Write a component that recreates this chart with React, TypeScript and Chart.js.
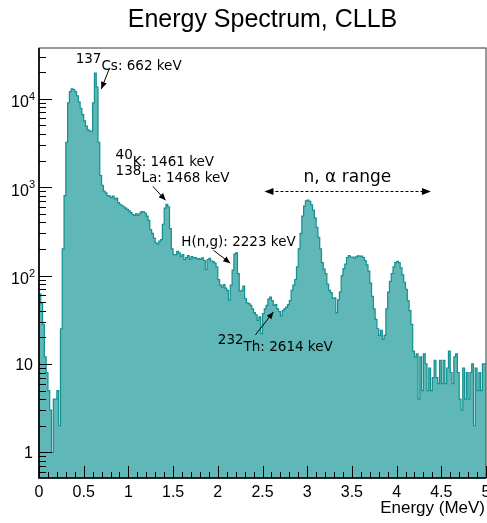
import { useEffect, useRef } from 'react';
import {
  Chart,
  LineController,
  LineElement,
  PointElement,
  LinearScale,
  LogarithmicScale,
  Filler,
} from 'chart.js';

Chart.register(LineController, LineElement, PointElement, LinearScale, LogarithmicScale, Filler);

const WIDTH = 487;
const HEIGHT = 523;

// Energy spectrum: 250 bins of 20 keV from 0 to 5 MeV (counts per bin)
const binWidthMeV = 0.02;
const counts = [
  33, 62, 48, 28, 12, 8, 5, 3, 1, 4,
  4, 5, 2, 25, 200, 800, 3200, 9000, 12000, 12900,
  12700, 12000, 10800, 9200, 7800, 6600, 5600, 4900, 4450, 4300,
  4300, 9000, 19500, 13500, 3200, 1350, 1050, 900, 860, 800,
  790, 760, 790, 730, 750, 670, 640, 620, 600, 580,
  560, 540, 515, 490, 480, 500, 480, 505, 530, 525,
  510, 470, 420, 330, 300, 265, 235, 228, 245, 255,
  380, 580, 640, 600, 340, 200, 172, 172, 188, 180,
  165, 172, 151, 160, 168, 152, 164, 158, 160, 154,
  155, 152, 158, 148, 117, 151, 156, 146, 144, 138,
  125, 90, 78, 74, 79, 72, 68, 53, 78, 115,
  175, 180, 105, 66, 68, 76, 55, 49, 48, 46,
  42, 38, 36, 31, 34, 22, 37, 42, 46, 54,
  57, 52, 46, 47, 42, 39, 35, 40, 42, 44,
  47, 52, 68, 78, 90, 125, 200, 300, 470, 610,
  700, 715, 690, 630, 550, 450, 350, 270, 200, 140,
  118, 105, 80, 68, 64, 55, 56, 38, 53, 65,
  100, 120, 135, 160, 168, 162, 162, 158, 163, 167,
  166, 166, 160, 148, 132, 112, 82, 58, 42, 32,
  25, 21, 24, 19, 21, 42, 65, 86, 105, 125,
  140, 145, 140, 122, 102, 84, 70, 52, 40, 28,
  14, 12, 13, 4, 12, 5, 13, 10, 5, 9,
  5, 7, 11, 7, 6, 11, 6, 11, 6, 9,
  14, 8, 6, 12, 13, 8, 4, 3, 9, 4,
  8, 4, 8, 10, 2, 9, 5, 8, 5, 10,
];

const energyRange = [0, 5];
const countRange = [0.513, 37450];

const xTickValues = [0, 0.5, 1, 1.5, 2, 2.5, 3, 3.5, 4, 4.5, 5];
const xTickLabels = ['0', '0.5', '1', '1.5', '2', '2.5', '3', '3.5', '4', '4.5', '5'];
const xMinorStep = 0.1;

const yTickValues = [1, 10, 100, 1000, 10000];
const yTickBases = ['1', '10', '10', '10', '10'];
const yTickExponents = ['', '', '2', '3', '4'];

const titleText = 'Energy Spectrum, CLLB';
const xAxisTitle = 'Energy (MeV)';

// Peak labels, anchored in data coordinates (MeV, counts)
const peakLabels = [
  { sup: '137', text: 'Cs: 662 keV', at: [0.41, 20960], from: [0.79, 22300], to: [0.697, 12900] },
  { sup: '40', text: 'K: 1461 keV', at: [0.857, 1751], from: null, to: null },
  { sup: '138', text: 'La: 1468 keV', at: [0.857, 1133], from: [1.274, 1021], to: [1.416, 709] },
  { sup: '', text: 'H(n,g): 2223 keV', at: [1.591, 214], from: [1.952, 193], to: [2.139, 138] },
  { sup: '232', text: 'Th: 2614 keV', at: [2.0, 13.9], from: [2.421, 21.3], to: [2.622, 38.7] },
];
const rangeLabel = { text: 'n, α range', at: [3.449, 1154], span: [2.522, 4.384], level: 909 };

const FILL = '#5fb7b7';
const LINE = '#13908f';
const SANS = '"Liberation Sans", Arial, sans-serif';
const DEJAVU = '"DejaVu Sans", sans-serif';

function arrowHead(ctx: CanvasRenderingContext2D, x0: number, y0: number, x1: number, y1: number, len: number, half: number) {
  const ang = Math.atan2(y1 - y0, x1 - x0);
  ctx.beginPath();
  ctx.moveTo(x1, y1);
  ctx.lineTo(x1 - len * Math.cos(ang) + half * Math.sin(ang), y1 - len * Math.sin(ang) - half * Math.cos(ang));
  ctx.lineTo(x1 - len * Math.cos(ang) - half * Math.sin(ang), y1 - len * Math.sin(ang) + half * Math.cos(ang));
  ctx.closePath();
  ctx.fill();
}

const decorations = {
  id: 'decorations',
  beforeDraw(chart: any) {
    const ctx = chart.ctx;
    ctx.save();
    ctx.fillStyle = '#ffffff';
    ctx.fillRect(0, 0, chart.width, chart.height);
    ctx.restore();
  },
  afterDatasetsDraw(chart: any) {
    const ctx: CanvasRenderingContext2D = chart.ctx;
    const a = chart.chartArea;
    const xs = chart.scales.x;
    const ys = chart.scales.y;
    ctx.save();

    // frame
    ctx.strokeStyle = '#555';
    ctx.lineWidth = 1.2;
    ctx.strokeRect(a.left, a.top, a.right - a.left, a.bottom - a.top);
    ctx.strokeStyle = '#000';
    ctx.lineWidth = 1.6;
    ctx.beginPath();
    ctx.moveTo(a.left, a.top);
    ctx.lineTo(a.left, a.bottom);
    ctx.lineTo(a.right, a.bottom);
    ctx.stroke();

    // x ticks (inside)
    ctx.lineWidth = 1;
    ctx.beginPath();
    const nMinor = Math.round((energyRange[1] - energyRange[0]) / xMinorStep);
    for (let k = 0; k <= nMinor; k++) {
      const v = energyRange[0] + k * xMinorStep;
      const px = Math.round(xs.getPixelForValue(v)) + 0.5;
      const major = k % 5 === 0;
      ctx.moveTo(px, a.bottom);
      ctx.lineTo(px, a.bottom - (major ? 12 : 6));
    }
    // y ticks (inside, log)
    for (let e = -1; e <= 4; e++) {
      for (let m = 1; m <= 9; m++) {
        const v = m * Math.pow(10, e);
        if (v < countRange[0] || v > countRange[1]) continue;
        const py = Math.round(ys.getPixelForValue(v)) + 0.5;
        ctx.moveTo(a.left, py);
        ctx.lineTo(a.left + (m === 1 ? 13 : 7), py);
      }
    }
    ctx.stroke();

    // tick labels
    ctx.fillStyle = '#000';
    ctx.font = `16px ${SANS}`;
    ctx.textAlign = 'center';
    ctx.textBaseline = 'alphabetic';
    xTickValues.forEach((v, i) => {
      ctx.fillText(xTickLabels[i], xs.getPixelForValue(v), a.bottom + 19);
    });
    yTickValues.forEach((v, i) => {
      const py = ys.getPixelForValue(v);
      const right = 35;
      const exp = yTickExponents[i];
      ctx.textAlign = 'right';
      if (exp) {
        ctx.font = `11px ${SANS}`;
        const ew = ctx.measureText(exp).width;
        ctx.fillText(exp, right, py + 1);
        ctx.font = `16px ${SANS}`;
        ctx.fillText(yTickBases[i], right - ew, py + 8.5);
      } else {
        ctx.font = `16px ${SANS}`;
        ctx.fillText(yTickBases[i], right - 2, py + 6);
      }
    });

    // axis title
    ctx.font = `17px ${SANS}`;
    ctx.textAlign = 'right';
    ctx.fillText(xAxisTitle, a.right - 1, a.bottom + 35);

    // title
    ctx.font = `25px ${SANS}`;
    ctx.textAlign = 'center';
    ctx.fillText(titleText, (a.left + a.right) / 2, 27);

    // peak labels and arrows
    ctx.font = `13.5px ${DEJAVU}`;
    ctx.textAlign = 'left';
    ctx.lineWidth = 1;
    ctx.strokeStyle = '#000';
    peakLabels.forEach((p) => {
      const x = xs.getPixelForValue(p.at[0]);
      const y = ys.getPixelForValue(p.at[1]);
      let cx = x;
      if (p.sup) {
        ctx.fillText(p.sup, cx, y - 7);
        cx += ctx.measureText(p.sup).width;
      }
      ctx.fillText(p.text, cx, y);
      if (p.from && p.to) {
        const x0 = xs.getPixelForValue(p.from[0]);
        const y0 = ys.getPixelForValue(p.from[1]);
        const x1 = xs.getPixelForValue(p.to[0]);
        const y1 = ys.getPixelForValue(p.to[1]);
        ctx.beginPath();
        ctx.moveTo(x0, y0);
        ctx.lineTo(x1, y1);
        ctx.stroke();
        arrowHead(ctx, x0, y0, x1, y1, 7, 3);
      }
    });

    // n, alpha range: dashed double arrow
    ctx.font = `17px ${DEJAVU}`;
    ctx.textAlign = 'center';
    ctx.fillText(rangeLabel.text, xs.getPixelForValue(rangeLabel.at[0]), ys.getPixelForValue(rangeLabel.at[1]));
    const ly = Math.round(ys.getPixelForValue(rangeLabel.level)) + 0.5;
    const lx0 = xs.getPixelForValue(rangeLabel.span[0]);
    const lx1 = xs.getPixelForValue(rangeLabel.span[1]);
    ctx.setLineDash([3, 2]);
    ctx.beginPath();
    ctx.moveTo(lx0 + 6, ly);
    ctx.lineTo(lx1 - 6, ly);
    ctx.stroke();
    ctx.setLineDash([]);
    arrowHead(ctx, lx1, ly, lx0, ly, 9, 3.5);
    arrowHead(ctx, lx0, ly, lx1, ly, 9, 3.5);

    ctx.restore();
  },
};

export default function App() {
  const canvasRef = useRef<HTMLCanvasElement | null>(null);

  useEffect(() => {
    const canvas = canvasRef.current;
    if (!canvas) return;
    const points = counts.map((c, i) => ({ x: +(i * binWidthMeV).toFixed(2), y: c }));
    points.push({ x: energyRange[1], y: counts[counts.length - 1] });

    const chart = new Chart(canvas, {
      type: 'line',
      data: {
        datasets: [
          {
            data: points,
            stepped: 'after',
            fill: 'start',
            backgroundColor: FILL,
            borderColor: LINE,
            borderWidth: 1.2,
            pointRadius: 0,
            tension: 0,
          },
        ],
      },
      options: {
        animation: false,
        responsive: false,
        devicePixelRatio: 1,
        layout: { padding: { left: 39, top: 48, right: 1, bottom: 45 } },
        plugins: { legend: { display: false }, tooltip: { enabled: false } },
        events: [],
        scales: {
          x: { type: 'linear', min: energyRange[0], max: energyRange[1], display: false },
          y: { type: 'logarithmic', min: countRange[0], max: countRange[1], display: false },
        },
      },
      plugins: [decorations],
    });
    return () => chart.destroy();
  }, []);

  return (
    <div style={{ position: 'absolute', left: 0, top: 0, width: WIDTH, height: HEIGHT }}>
      <canvas ref={canvasRef} width={WIDTH} height={HEIGHT} style={{ width: WIDTH, height: HEIGHT, display: 'block' }} />
    </div>
  );
}
